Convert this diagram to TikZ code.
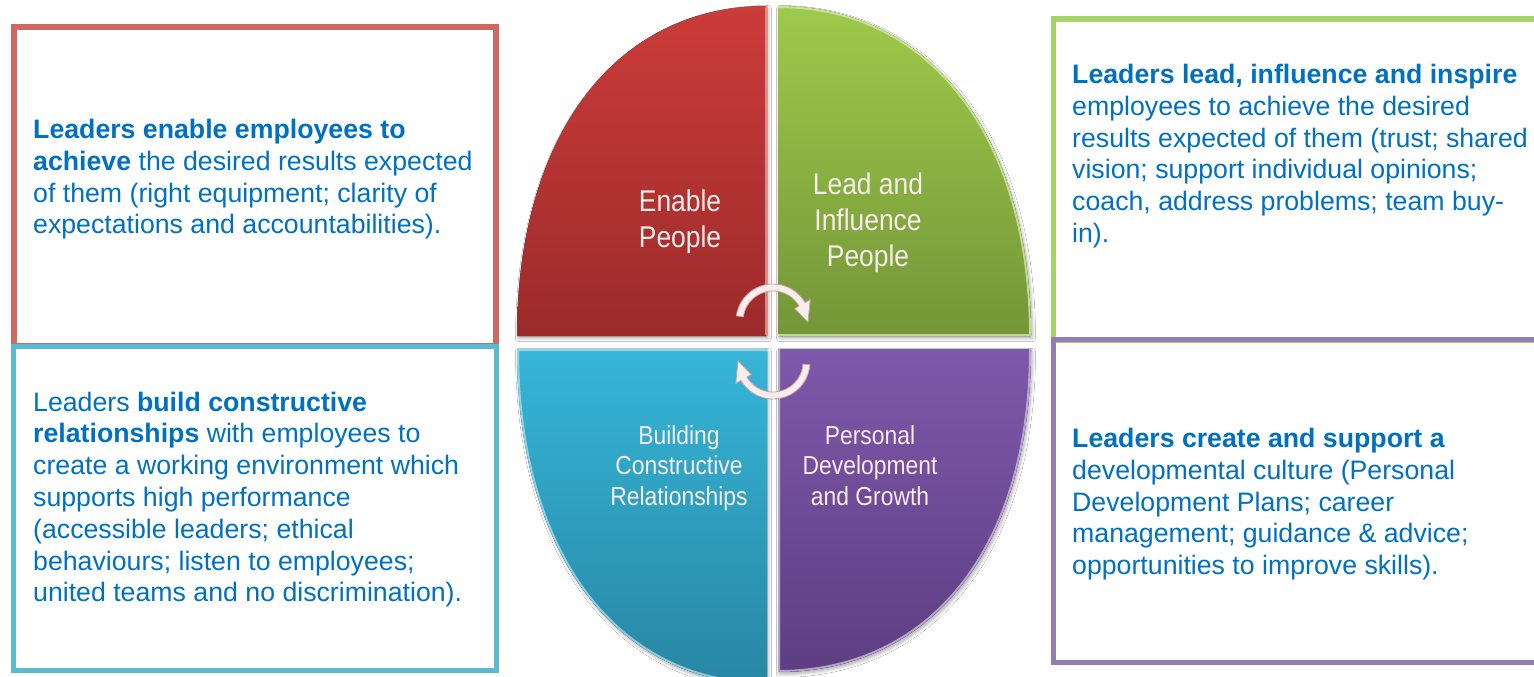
\documentclass[tikz,border=0pt]{standalone}
\usepackage{fontspec}
\setmainfont{Liberation Sans}
\newfontfamily\narrowfont[FakeStretch=0.88]{Liberation Sans}
\usetikzlibrary{shadows.blur}

\definecolor{txtblue}{RGB}{0,112,192}
\definecolor{redframe}{RGB}{205,104,98}
\definecolor{blueframe}{RGB}{92,185,210}
\definecolor{greenframe}{RGB}{166,212,106}
\definecolor{purpleframe}{RGB}{150,124,178}
\definecolor{redtop}{RGB}{203,60,58}
\definecolor{redbot}{RGB}{156,42,42}
\definecolor{greentop}{RGB}{158,202,74}
\definecolor{greenbot}{RGB}{116,150,56}
\definecolor{bluetop}{RGB}{54,182,216}
\definecolor{bluebot}{RGB}{40,134,164}
\definecolor{purpletop}{RGB}{126,88,170}
\definecolor{purplebot}{RGB}{94,62,130}
\definecolor{pielabel}{RGB}{246,236,236}
\definecolor{arrowfill}{RGB}{247,237,237}
\definecolor{arrowline}{RGB}{200,160,160}

\tikzset{
  frame/.style={line width=5.5pt},
  bodytext/.style={anchor=north west, inner sep=0pt, align=left, text=txtblue,
    font=\fontsize{26.7}{31.8}\selectfont},
  biglabel/.style={anchor=north, inner sep=0pt, align=center, text=pielabel,
    font=\narrowfont\fontsize{30}{36}\selectfont},
  smalllabel/.style={anchor=north, inner sep=0pt, align=center, text=pielabel,
    font=\narrowfont\fontsize{26}{30.5}\selectfont},
  quadshadow/.style={blur shadow={shadow xshift=1.5pt, shadow yshift=-2.5pt,
    shadow opacity=30, shadow blur radius=3pt, shadow blur steps=6}},
  rim/.style={line width=4pt, line cap=round},
  cyclearrow/.style={fill=arrowfill, draw=arrowline, line width=0.8pt, line join=round}
}

\begin{document}
\begin{tikzpicture}[x=1pt,y=-1pt]
\clip (0,0) rectangle (1534,677);
\fill[white] (0,0) rectangle (1534,677);

% ---- text frames ----
\draw[frame, draw=redframe] (14,27) rectangle (496,346);
\draw[frame, draw=blueframe] (13.5,346.5) rectangle (496.5,670.5);
\draw[frame, draw=greenframe] (1053.5,19) rectangle (1570,340);
\draw[frame, draw=purpleframe] (1053.5,339.5) rectangle (1570,662.5);

\node[bodytext] (enabletext) at (33,116) {\strut\textbf{Leaders enable employees to}\\
  \textbf{achieve} the desired results expected\\
  of them (right equipment; clarity of\\
  expectations and accountabilities).};

\node[bodytext] (buildtext) at (33,388.7) {\strut Leaders \textbf{build constructive}\\
  \textbf{relationships} with employees to\\
  create a working environment which\\
  supports high performance\\
  (accessible leaders; ethical\\
  behaviours; listen to employees;\\
  united teams and no discrimination).};

\node[bodytext] (leadtext) at (1072,61) {\strut\textbf{Leaders lead, influence and inspire}\\
  employees to achieve the desired\\
  results expected of them (trust; shared\\
  vision; support individual opinions;\\
  coach, address problems; team buy-\\
  in).};

\node[bodytext] (growtext) at (1072,425) {\strut\textbf{Leaders create and support a}\\
  developmental culture (Personal\\
  Development Plans; career\\
  management; guidance \& advice;\\
  opportunities to improve skills).};

% ---- four quadrants of the wheel ----
\fill[quadshadow, top color=redtop, bottom color=redbot]
  (767,336) -- (517,336) .. controls (517,136) and (615,6) .. (767,6) -- cycle;
\fill[quadshadow, top color=greentop, bottom color=greenbot]
  (778,336) -- (1031,336) .. controls (1031,136) and (930,6) .. (778,6) -- cycle;
\fill[quadshadow, top color=bluetop, bottom color=bluebot]
  (767,349) -- (517,349) .. controls (517,551) and (615,684) .. (767,684) -- cycle;
\fill[quadshadow, top color=purpletop, bottom color=purplebot]
  (778,349) -- (1031,349) .. controls (1031,549) and (930,672) .. (778,672) -- cycle;

% light bevel rims along some edges
\begin{scope}
  \clip (767,336) -- (517,336) .. controls (517,136) and (615,6) .. (767,6) -- cycle;
  \draw[rim, draw=red!35!white, opacity=0.7] (767,8) -- (767,334);
\end{scope}
\begin{scope}
  \clip (778,336) -- (1031,336) .. controls (1031,136) and (930,6) .. (778,6) -- cycle;
  \draw[rim, draw=greentop!45!white, opacity=0.8]
    (778,336) -- (1031,336) .. controls (1031,136) and (930,6) .. (778,6);
\end{scope}
\begin{scope}
  \clip (767,349) -- (517,349) .. controls (517,551) and (615,684) .. (767,684) -- cycle;
  \draw[rim, draw=bluetop!45!white, opacity=0.8]
    (767,349) -- (517,349) .. controls (517,551) and (615,684) .. (767,684);
\end{scope}
\begin{scope}
  \clip (778,349) -- (1031,349) .. controls (1031,549) and (930,672) .. (778,672) -- cycle;
  \draw[rim, draw=purpletop!40!white, opacity=0.8]
    (778,349) -- (778,672) .. controls (930,672) and (1031,549) .. (1031,349);
\end{scope}

% ---- quadrant labels ----
\node[biglabel] (enable) at (680,185.8) {\strut Enable\\People};
\node[biglabel] (lead) at (868,168.8) {\strut Lead and\\Influence\\People};
\node[smalllabel] (building) at (679,422.6) {\strut Building\\Constructive\\Relationships};
\node[smalllabel] (personal) at (870,422.6) {\strut Personal\\Development\\and Growth};

% ---- circular arrows in the middle ----
\fill[cyclearrow]
  plot[domain=188:330, samples=30] ({773+37*cos(\x)},{321+37*sin(\x)})
  -- ({773+43*cos(330)},{321+43*sin(330)})
  -- ({773+35*cos(2)},{321+35*sin(2)})
  -- ({773+25*cos(330)},{321+25*sin(330)})
  -- plot[domain=330:188, samples=30] ({773+30*cos(\x)},{321+30*sin(\x)})
  -- cycle;
\fill[cyclearrow]
  plot[domain=4:150, samples=30] ({773+37*cos(\x)},{362+37*sin(\x)})
  -- ({773+43*cos(150)},{362+43*sin(150)})
  -- ({773+35*cos(182)},{362+35*sin(182)})
  -- ({773+25*cos(150)},{362+25*sin(150)})
  -- plot[domain=150:4, samples=30] ({773+30*cos(\x)},{362+30*sin(\x)})
  -- cycle;
\end{tikzpicture}
\end{document}
